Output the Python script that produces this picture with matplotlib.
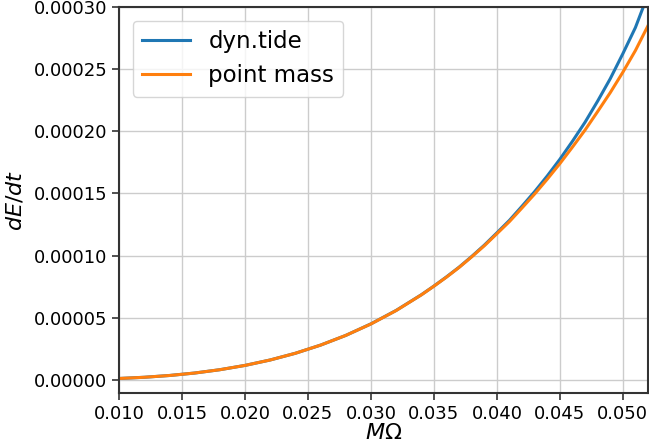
import matplotlib
matplotlib.use("Agg")
import matplotlib.pyplot as plt
from matplotlib.ticker import FormatStrFormatter, MultipleLocator

# Orbital frequency M*Omega
m_omega = [0.010, 0.012, 0.014, 0.016, 0.018, 0.020, 0.022, 0.024, 0.026, 0.028,
           0.030, 0.032, 0.034, 0.035, 0.036, 0.037, 0.038, 0.039, 0.040, 0.041,
           0.042, 0.043, 0.044, 0.045, 0.046, 0.047, 0.048, 0.049, 0.050, 0.051,
           0.052]

# dE/dt, point mass
point_mass = [1.16e-6, 2.13e-6, 3.56e-6, 5.54e-6, 8.21e-6, 1.167e-5, 1.604e-5, 2.144e-5,
              2.80e-5, 3.58e-5, 4.50e-5, 5.58e-5, 6.84e-5, 7.54e-5, 8.27e-5, 9.05e-5,
              9.90e-5, 1.079e-4, 1.176e-4, 1.274e-4, 1.384e-4, 1.496e-4, 1.615e-4,
              1.740e-4, 1.873e-4, 2.010e-4, 2.159e-4, 2.311e-4, 2.475e-4, 2.65e-4,
              2.85e-4]

# dE/dt, dynamical tide
dyn_tide = [1.16e-6, 2.13e-6, 3.56e-6, 5.54e-6, 8.21e-6, 1.167e-5, 1.604e-5, 2.144e-5,
            2.80e-5, 3.58e-5, 4.51e-5, 5.59e-5, 6.85e-5, 7.55e-5, 8.29e-5, 9.07e-5,
            9.93e-5, 1.084e-4, 1.183e-4, 1.284e-4, 1.398e-4, 1.515e-4, 1.641e-4,
            1.775e-4, 1.920e-4, 2.073e-4, 2.243e-4, 2.423e-4, 2.624e-4, 2.835e-4,
            3.10e-4]

fig = plt.figure(figsize=(6.49, 4.45), dpi=100)
ax = fig.add_axes([0.1834, 0.1169, 0.8151, 0.8674])

ax.plot(m_omega, dyn_tide, color="#1f77b4", lw=2.2, label="dyn.tide")
ax.plot(m_omega, point_mass, color="#ff7f0e", lw=2.2, label="point mass")

ax.set_xlim(0.010, 0.052)
ax.set_ylim(-1.05e-5, 3.0e-4)
ax.xaxis.set_major_locator(MultipleLocator(0.005))
ax.yaxis.set_major_locator(MultipleLocator(0.00005))
ax.xaxis.set_major_formatter(FormatStrFormatter("%.3f"))
ax.yaxis.set_major_formatter(FormatStrFormatter("%.5f"))
ax.tick_params(labelsize=13, length=5, width=1.2, color="#333333")

ax.grid(True, color="#cccccc", lw=1)
ax.set_axisbelow(True)
for s in ax.spines.values():
    s.set_color("#333333")
    s.set_linewidth(1.5)

ax.set_xlabel(r"$M\Omega$", fontsize=16, labelpad=0)
ax.set_ylabel(r"$dE/dt$", fontsize=16, labelpad=6)

ax.legend(loc="upper left", fontsize=16.5, framealpha=0.8, borderaxespad=0.6,
          handlelength=2.1)

fig.savefig("out.png", dpi=100)
